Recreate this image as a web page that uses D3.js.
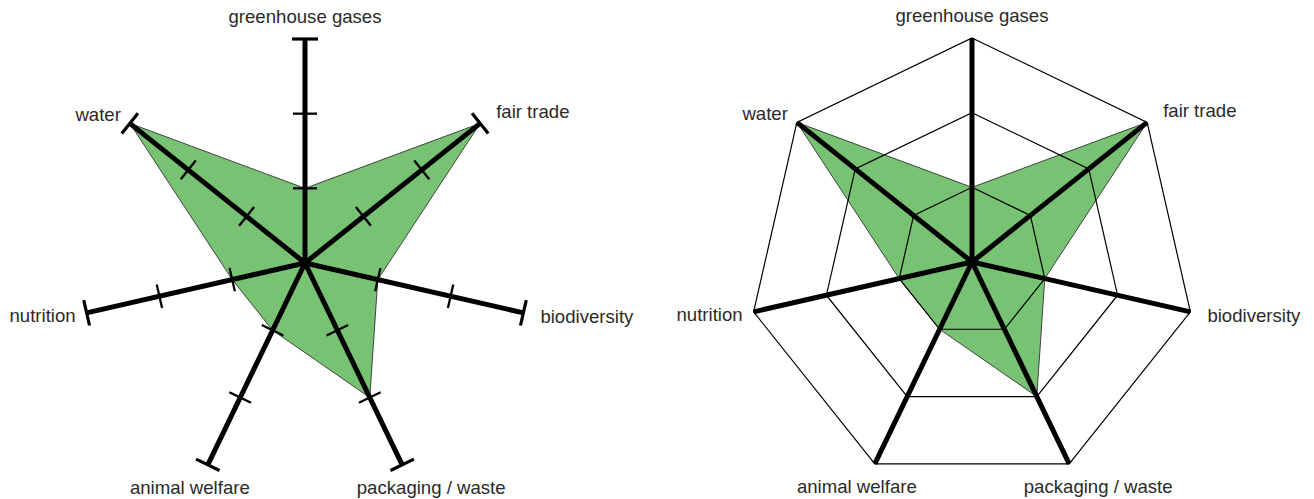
<!DOCTYPE html>
<meta charset="utf-8">
<style>
	body {
		margin: 0;
		background: #fff;
	}

	text {
		font-family: "Liberation Sans", Arial, sans-serif;
		font-size: 18.6px;
		fill: #2a2a2a;
	}
</style>
<script src="https://cdn.jsdelivr.net/npm/d3@7"></script>

<body>
	<div id="chart"></div>

	<script>
		// the seven criteria, clockwise from the top
		let axes = ["greenhouse gases", "fair trade", "biodiversity", "packaging / waste",
			"animal welfare", "nutrition", "water"];
		// score on each criterion, 0..3
		let scores = [1, 3, 1, 2, 1, 1, 3];
		// tick / ring levels
		let levels = [1, 2, 3];

		let width = 1314,
			height = 499,
			radius = 224;

		let svg = d3.select("#chart")
			.append("svg")
			.attr("width", width)
			.attr("height", height);

		let r = d3.scaleLinear().domain([0, 3]).range([0, radius]);
		let step = 2 * Math.PI / axes.length;

		// label placement relative to the end of each axis
		let labelPos = [
			{ dx: 0, dy: -16, anchor: "middle" },
			{ dx: 16, dy: -5, anchor: "start" },
			{ dx: 17, dy: 10, anchor: "start" },
			{ dx: 29, dy: 29, anchor: "middle" },
			{ dx: -18, dy: 29, anchor: "middle" },
			{ dx: -11, dy: 9, anchor: "end" },
			{ dx: -9, dy: -2, anchor: "end" }
		];

		let area = d3.lineRadial()
			.angle((d, i) => i * step)
			.radius(d => r(d))
			.curve(d3.curveLinearClosed);

		function endPoint(i) {
			let a = i * step;
			return [Math.sin(a) * r(3), -Math.cos(a) * r(3)];
		}

		function drawLabels(g) {
			g.selectAll("text.label")
				.data(axes)
				.join("text")
				.attr("class", "label")
				.attr("x", (d, i) => endPoint(i)[0] + labelPos[i].dx)
				.attr("y", (d, i) => endPoint(i)[1] + labelPos[i].dy)
				.attr("text-anchor", (d, i) => labelPos[i].anchor)
				.text(d => d);
		}

		function drawArea(g) {
			g.append("path")
				.datum(scores)
				.attr("d", area)
				.attr("fill", "#77c273")
				.attr("stroke", "#333")
				.attr("stroke-width", 0.9)
				.attr("stroke-linejoin", "miter");
		}

		// ---------- left: axes with tick marks ----------
		let left = svg.append("g").attr("transform", "translate(305,263)");

		drawArea(left);

		let spokes = left.selectAll("g.spoke")
			.data(axes)
			.join("g")
			.attr("class", "spoke")
			.attr("transform", (d, i) => "rotate(" + (i * 360 / axes.length) + ")");

		spokes.append("line")
			.attr("x1", 0).attr("y1", 0)
			.attr("x2", 0).attr("y2", -r(3))
			.attr("stroke", "#000")
			.attr("stroke-width", 5);

		spokes.selectAll("line.tick")
			.data(levels)
			.join("line")
			.attr("class", "tick")
			.attr("x1", d => d === 3 ? -13 : -12)
			.attr("x2", d => d === 3 ? 13 : 12)
			.attr("y1", d => -r(d))
			.attr("y2", d => -r(d))
			.attr("stroke", "#000")
			.attr("stroke-width", d => d === 3 ? 3.2 : 2.3);

		drawLabels(left);

		// ---------- right: heptagon grid ----------
		let right = svg.append("g").attr("transform", "translate(972,262)");

		drawArea(right);

		right.selectAll("path.ring")
			.data(levels)
			.join("path")
			.attr("class", "ring")
			.attr("d", lv => area(axes.map(() => lv)))
			.attr("fill", "none")
			.attr("stroke", "#000")
			.attr("stroke-width", 1.2);

		right.selectAll("line.axis")
			.data(axes)
			.join("line")
			.attr("class", "axis")
			.attr("x1", 0).attr("y1", 0)
			.attr("x2", (d, i) => endPoint(i)[0])
			.attr("y2", (d, i) => endPoint(i)[1])
			.attr("stroke", "#000")
			.attr("stroke-width", 5);

		drawLabels(right);
	</script>
</body>
